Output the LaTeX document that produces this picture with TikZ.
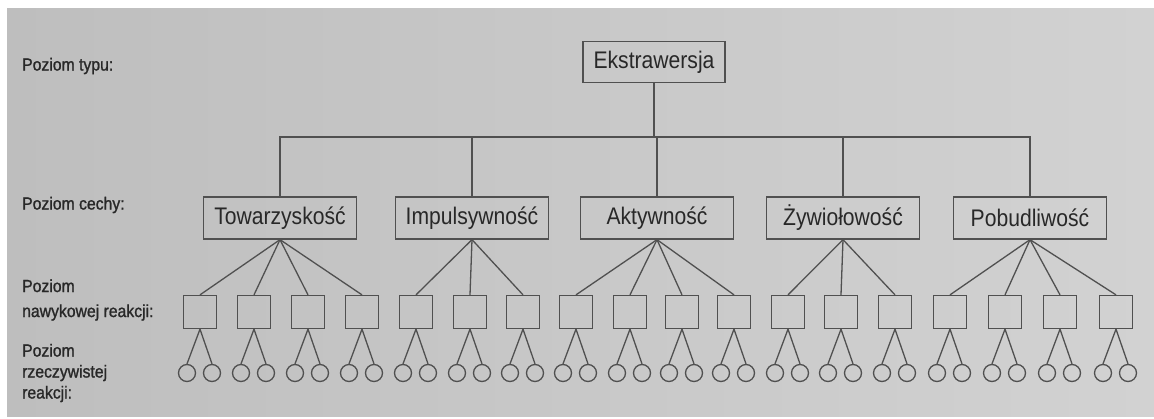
\documentclass[tikz,border=0pt]{standalone}
\usepackage{fontspec}
\newfontfamily\diagfont{Liberation Sans}[FakeStretch=0.88]
\newfontfamily\lvlfont{Liberation Sans}[FakeStretch=0.9,FakeBold=1.2]
\definecolor{pageL}{RGB}{190,190,190}
\definecolor{pageR}{RGB}{210,210,210}
\definecolor{ink}{RGB}{80,80,80}
\definecolor{txt}{RGB}{40,40,40}
\begin{document}
\begin{tikzpicture}[x=1pt,y=-1pt,
  link/.style={draw=ink, line width=1.3pt},
  topbox/.style={draw=ink, line width=1.3pt, minimum width=142pt, minimum height=41pt,
    inner sep=0pt, text=txt, font=\diagfont\fontsize{24}{28}\selectfont},
  trait/.style={topbox, minimum width=153pt, minimum height=42pt},
  habit/.style={draw=ink, line width=1.3pt, minimum size=33pt, inner sep=0pt},
  act/.style={circle, draw=ink, line width=1.3pt, minimum size=17pt, inner sep=0pt},
  lvl/.style={anchor=west, align=left, inner sep=0pt, text=txt,
    font=\lvlfont\fontsize{17.5}{21}\selectfont}]
\useasboundingbox (0,0) rectangle (1154,418);
% page
\fill[white] (0,0) rectangle (1154,418);
\shade[left color=pageL, right color=pageR] (7,8) rectangle (1154,416);

% level labels
\node[lvl] (l1) at (22,66) {Poziom typu:};
\node[lvl] (l2) at (22,205) {Poziom cechy:};
\node[lvl] (l3) at (22,300) {Poziom\\[4pt]nawykowej reakcji:};
\node[lvl] (l4) at (22,373) {Poziom\\rzeczywistej\\reakcji:};

% type and traits
\node[topbox] (ext) at (654,62) {Ekstrawersja};
\node[trait] (tow) at (280,218) {Towarzyskość};
\node[trait] (imp) at (472,218) {Impulsywność};
\node[trait] (akt) at (657,218) {Aktywność};
\node[trait] (zyw) at (843,218) {Żywiołowość};
\node[trait] (pob) at (1030,218) {Pobudliwość};

\coordinate (bar) at (654,137);
\draw[link] (ext.south) -- (bar);
\draw[link] (tow.north) |- (bar) -| (pob.north);
\foreach \t in {imp,akt,zyw}
  \draw[link] (\t.north) -- (\t.north |- bar);

% habitual responses and specific responses
\foreach \n/\x/\up in {h1/200/tow, h2/254/tow, h3/308/tow, h4/362/tow,
                       h5/416/imp, h6/470/imp, h7/523/imp,
                       h8/576/akt, h9/630/akt, h10/682/akt, h11/734/akt,
                       h12/788/zyw, h13/841/zyw, h14/895/zyw,
                       h15/950/pob, h16/1005/pob, h17/1060/pob, h18/1116/pob} {
  \node[habit] (\n) at (\x,312) {};
  \draw[link] (\up.south) -- (\n.north);
  \node[act] (\n-a) at (\x-13,373) {};
  \node[act] (\n-b) at (\x+12,373) {};
  \draw[link] (\n.south) -- (\n-a.north);
  \draw[link] (\n.south) -- (\n-b.north);
}
\end{tikzpicture}
\end{document}
